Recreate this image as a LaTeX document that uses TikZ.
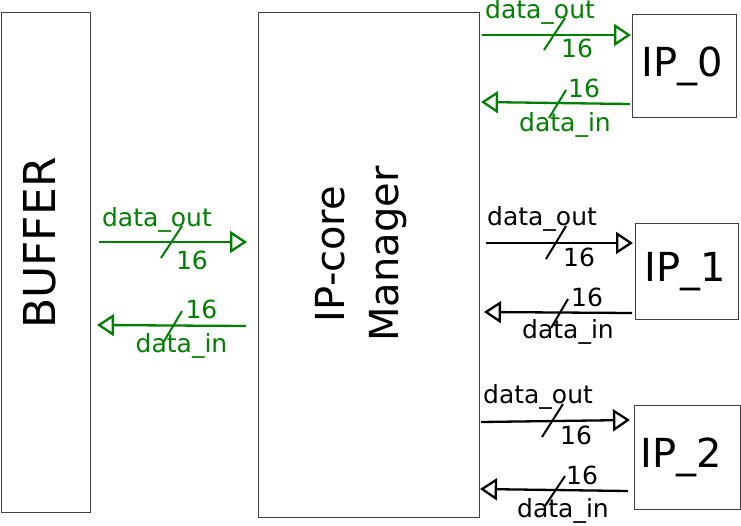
\documentclass[tikz,border=0pt]{standalone}
\usepackage{fontspec}
\setmainfont{DejaVu Sans}
\usetikzlibrary{arrows.meta}
\definecolor{sig}{RGB}{0,128,0}
\begin{document}
\begin{tikzpicture}[x=1pt,y=-1pt,
  box/.style={draw=black!75, line width=1pt, inner sep=0pt},
  bigtxt/.style={font=\fontsize{40}{50}\selectfont, inner sep=0pt},
  lbl/.style={font=\fontsize{25}{30}\selectfont, inner sep=0pt},
  bus/.style={line width=2.3pt, -{Triangle[open, length=17pt, width=22pt, line width=2.3pt]}},
  slash/.style={line width=2pt}]
\useasboundingbox (0,0) rectangle (741,525);
\fill[white] (0,0) rectangle (741,525);
% boxes
\node[box, minimum width=89pt, minimum height=500pt] (buf) at (45.5,262) {};
\node[box, minimum width=221pt, minimum height=505pt] (mgr) at (368.5,264.5) {};
\node[box, minimum width=104pt, minimum height=103pt] (ip0) at (684,65.5) {};
\node[box, minimum width=103pt, minimum height=96pt] (ip1) at (686.5,271) {};
\node[box, minimum width=106pt, minimum height=104pt] (ip2) at (687,457) {};
% box texts
\node[bigtxt, font=\fontsize{44}{50}\selectfont, rotate=90] (buft) at (40,243) {BUFFER};
\node[bigtxt, rotate=90, align=center] (mgrt) at (361,254) {IP-core\\[4pt]Manager};
\node[bigtxt] (ip0t) at (682,66) {IP\_0};
\node[bigtxt] (ip1t) at (685,272) {IP\_1};
\node[bigtxt] (ip2t) at (681,457) {IP\_2};
% coordinates
\coordinate (b1s) at (99,242);  \coordinate (b1e) at (247,242);
\coordinate (b2s) at (246,326); \coordinate (b2e) at (97,325);
\coordinate (a1s) at (482,35);  \coordinate (a1e) at (631,35);
\coordinate (a2s) at (630,104); \coordinate (a2e) at (481,102);
\coordinate (c1s) at (486,243); \coordinate (c1e) at (633,243);
\coordinate (c2s) at (632,313); \coordinate (c2e) at (484,312);
\coordinate (d1s) at (481,422); \coordinate (d1e) at (630,420);
\coordinate (d2s) at (628,491); \coordinate (d2e) at (480,489);
% buffer <-> manager (green)
\begin{scope}[sig, draw=sig, text=sig]
\draw[bus] (b1s) -- (b1e);
\draw[slash] (161,258) -- (182,226);
\node[lbl] (l1) at (157,219.5) {data\_out};
\node[lbl] (l2) at (192,260.5) {16};
\draw[bus] (b2s) -- (b2e);
\draw[slash] (163,343) -- (182,311);
\node[lbl] (l3) at (201.5,309.5) {16};
\node[lbl] (l4) at (181.5,346) {data\_in};
% IP_0 (green)
\draw[bus] (a1s) -- (a1e);
\draw[slash] (544,50) -- (565,18);
\node[lbl] (l5) at (540,12) {data\_out};
\node[lbl] (l6) at (577,48.5) {16};
\draw[bus] (a2s) -- (a2e);
\draw[slash] (549,118) -- (566,90);
\node[lbl] (l7) at (584,88.5) {16};
\node[lbl] (l8) at (565,125) {data\_in};
\end{scope}
% IP_1 (black)
\draw[bus] (c1s) -- (c1e);
\draw[slash] (546,259) -- (566,226);
\node[lbl] (l9) at (542,219) {data\_out};
\node[lbl] (l10) at (579,257.5) {16};
\draw[bus] (c2s) -- (c2e);
\draw[slash] (551,328) -- (568,299);
\node[lbl] (l11) at (587,297) {16};
\node[lbl] (l12) at (568,332) {data\_in};
% IP_2 (black)
\draw[bus] (d1s) -- (d1e);
\draw[slash] (542,437) -- (563,404);
\node[lbl] (l13) at (538,397) {data\_out};
\node[lbl] (l14) at (576,435.5) {16};
\draw[bus] (d2s) -- (d2e);
\draw[slash] (545,506) -- (565,476);
\node[lbl] (l15) at (582,475) {16};
\node[lbl] (l16) at (563,511) {data\_in};
\end{tikzpicture}
\end{document}
